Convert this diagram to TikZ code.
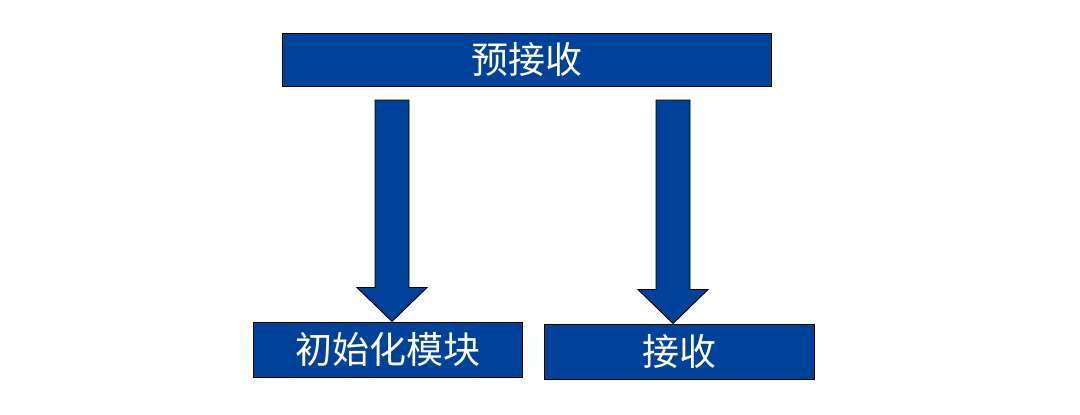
\documentclass[tikz,border=0pt]{standalone}
\usepackage{fontspec}
\newfontfamily\cjk{Noto Sans CJK SC}
\usetikzlibrary{calc}
\definecolor{boxblue}{RGB}{0,65,153}
\begin{document}
\begin{tikzpicture}[x=1pt,y=-1pt,
  box/.style={draw=black, line width=1pt, fill=boxblue, inner sep=0pt, text=white,
    font=\cjk\fontsize{37}{37}\selectfont},
  fatarrow/.style={draw=black, line width=0.9pt, fill=boxblue, line join=miter}]
\useasboundingbox (0,0) rectangle (1080,415);
\node[box, minimum width=489pt, minimum height=53pt] (top) at (526.5,59.5) {预接收};
\node[box, minimum width=269pt, minimum height=55pt] (left) at (387.5,349.5) {初始化模块};
\node[box, minimum width=270pt, minimum height=55pt] (right) at (679,351.5) {接收};
\coordinate (s1) at (392,100);
\coordinate (s2) at (673,100);
\foreach \s/\t in {s1/left, s2/right}{
  \path[fatarrow] let \p1=(\s), \p2=(\t.north -| \s) in
    (\x1-17pt,\y1) -- (\x1+17pt,\y1) -- (\x1+17pt,\y2+34pt) -- (\x1+35pt,\y2+34pt)
    -- (\x1,\y2) -- (\x1-35pt,\y2+34pt) -- (\x1-17pt,\y2+34pt) -- cycle;
}
\end{tikzpicture}
\end{document}
